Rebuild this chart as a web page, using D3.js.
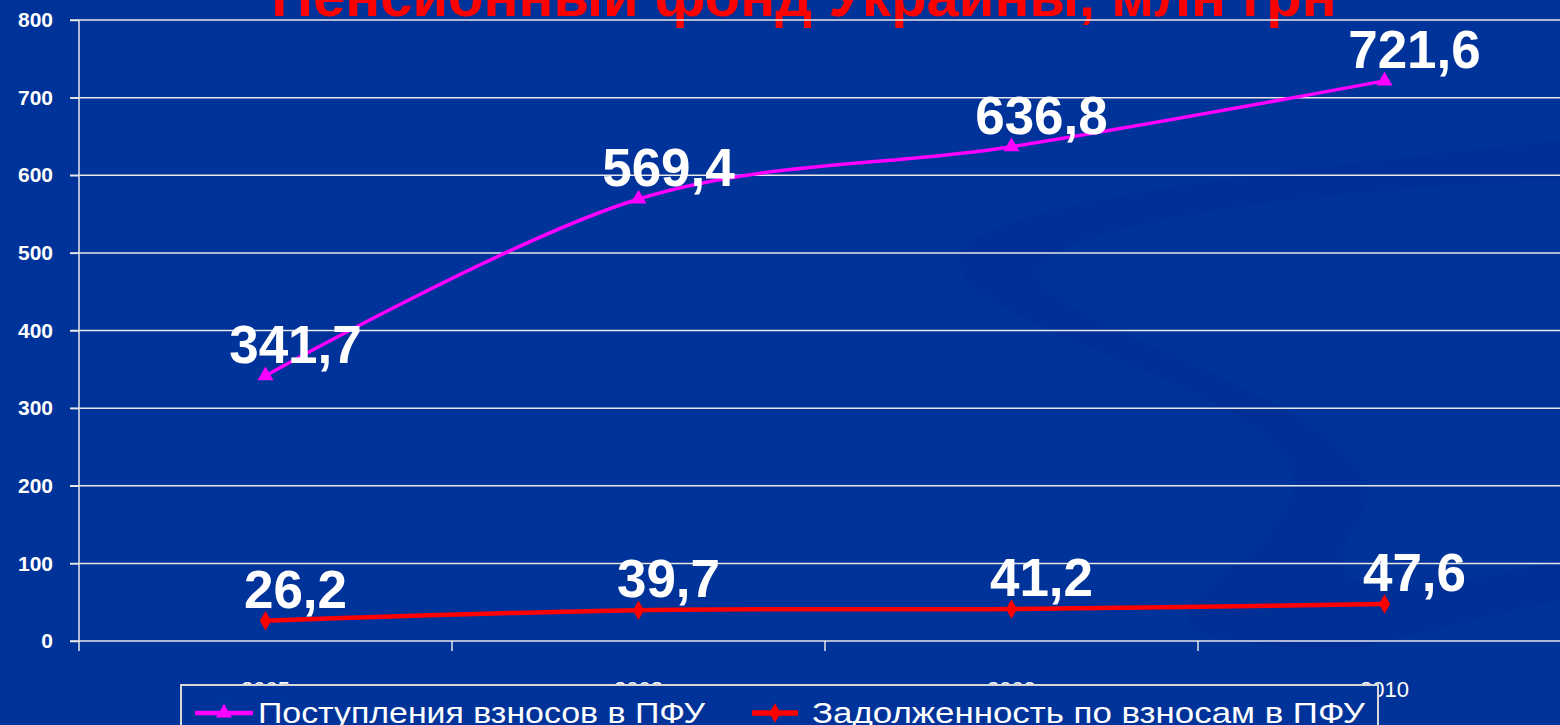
<!DOCTYPE html>
<html>
<head>
<meta charset="utf-8">
<script src="https://cdnjs.cloudflare.com/ajax/libs/d3/7.8.5/d3.min.js"></script>
<style>
  html, body { margin: 0; padding: 0; background: #003399; overflow: hidden; }
  #canvas { width: 1560px; height: 725px; }
</style>
</head>
<body>
<div id="canvas"></div>
<script>
// chart data
const years = ["2005", "2008", "2009", "2010"];
const contributions = [341.7, 569.4, 636.8, 721.6];
const arrears = [26.2, 39.7, 41.2, 47.6];
const yTicks = [0, 100, 200, 300, 400, 500, 600, 700, 800];
const seriesNames = ["Поступления взносов в ПФУ", "Задолженность по взносам в ПФУ"];
const title = "Пенсионный фонд Украины, млн грн";

const width = 1560;
const height = 725;
const margin = { top: 20, left: 79, bottom: 84, right: 68 };
const iwidth = width - margin.left - margin.right;
const iheight = height - margin.top - margin.bottom;

const fmt = (v) => d3.format(".1f")(v).replace(".", ",");

const svg = d3.select("#canvas").append("svg")
	.attr("width", width)
	.attr("height", height)
	.style("font-family", "Liberation Sans, Arial, sans-serif");

svg.append("rect").attr("width", width).attr("height", height).attr("fill", "#003399");

// faint decorative swoosh in the background
svg.append("path")
	.attr("d", "M1560,140 C1300,170 930,200 960,270 C990,340 1330,400 1290,500 C1250,590 1050,640 1350,650 L1560,600 L1560,560 C1400,600 1300,600 1360,520 C1420,420 1080,340 1040,280 C1010,230 1300,190 1560,180 Z")
	.attr("fill", "#002a8a")
	.attr("opacity", 0.22);

// title (cut off at the top like the source)
svg.append("text")
	.attr("x", 804)
	.attr("y", 16)
	.attr("text-anchor", "middle")
	.attr("fill", "#ff0000")
	.style("font-size", "58px")
	.style("font-weight", "bold")
	.text(title);

const g = svg.append("g").attr("transform", `translate(${margin.left},${margin.top})`);

const y = d3.scaleLinear().domain([0, 800]).range([iheight, 0]);
const x = d3.scaleBand().domain(years).range([0, 373 * 4]);
const cx = (d) => x(d) + x.bandwidth() / 2;

// grid lines
g.append("g")
	.selectAll("line")
	.data(yTicks)
	.join("line")
	.attr("x1", -9)
	.attr("x2", width - margin.left)
	.attr("y1", (d) => y(d))
	.attr("y2", (d) => y(d))
	.attr("stroke", "#e8e8e8")
	.attr("stroke-width", 1.5);

// y axis
const yAxis = g.append("g").call(d3.axisLeft(y).tickValues(yTicks).tickSize(9).tickPadding(17));
yAxis.select(".domain").remove();
yAxis.selectAll(".tick line").attr("stroke", "#e8e8e8").attr("stroke-width", 1.5);
yAxis.selectAll(".tick text")
	.attr("fill", "#ffffff")
	.style("font-size", "21px")
	.style("font-weight", "bold")
	.style("font-family", "Liberation Sans, Arial, sans-serif");
g.append("line")
	.attr("x1", 0).attr("x2", 0)
	.attr("y1", 0).attr("y2", iheight + 10)
	.attr("stroke", "#e8e8e8").attr("stroke-width", 1.5);

// x axis
const xAxis = g.append("g")
	.attr("transform", `translate(0,${iheight})`)
	.call(d3.axisBottom(x).tickSize(0).tickPadding(40));
xAxis.select(".domain").remove();
xAxis.selectAll(".tick text")
	.attr("fill", "#ffffff")
	.style("font-size", "22px")
	.style("font-family", "Liberation Sans, Arial, sans-serif");
g.append("g")
	.selectAll("line")
	.data(years)
	.join("line")
	.attr("x1", (d) => x(d) + x.bandwidth())
	.attr("x2", (d) => x(d) + x.bandwidth())
	.attr("y1", iheight)
	.attr("y2", iheight + 10)
	.attr("stroke", "#e8e8e8")
	.attr("stroke-width", 1.5);

// lines
const line = d3.line()
	.x((d) => cx(d.year))
	.y((d) => y(d.value))
	.curve(d3.curveCatmullRom.alpha(0));

const series = [
	{ name: seriesNames[0], values: contributions, color: "#ff00ff", width: 3.5, symbol: d3.symbolTriangle },
	{ name: seriesNames[1], values: arrears, color: "#ff0000", width: 4.5, symbol: d3.symbolDiamond }
];

series.forEach((s) => {
	const pts = years.map((yr, i) => ({ year: yr, value: s.values[i] }));
	g.append("path")
		.datum(pts)
		.attr("d", line)
		.attr("fill", "none")
		.attr("stroke", s.color)
		.attr("stroke-width", s.width);
	g.append("g")
		.selectAll("path")
		.data(pts)
		.join("path")
		.attr("d", d3.symbol().type(s.symbol).size(110))
		.attr("transform", (d) => `translate(${cx(d.year)},${y(d.value)})`)
		.attr("fill", s.color);
	g.append("g")
		.selectAll("text")
		.data(pts)
		.join("text")
		.attr("x", (d) => cx(d.year) + 30)
		.attr("y", (d) => y(d.value) - 13)
		.attr("text-anchor", "middle")
		.attr("fill", "#ffffff")
		.style("font-size", "53px")
		.style("font-weight", "bold")
		.text((d) => fmt(d.value));
});

// legend
const legend = svg.append("g").attr("transform", "translate(181,685)");
legend.append("rect")
	.attr("width", 1197)
	.attr("height", 70)
	.attr("fill", "#003399")
	.attr("stroke", "#d8d8d8")
	.attr("stroke-width", 2);

const legendItems = [
	{ x: 14, lineLen: 58, textX: 77, textLen: 447 },
	{ x: 571, lineLen: 46, textX: 631, textLen: 553 }
];
series.forEach((s, i) => {
	const li = legendItems[i];
	const item = legend.append("g").attr("transform", `translate(${li.x},28)`);
	item.append("line")
		.attr("x1", 0).attr("x2", li.lineLen)
		.attr("y1", 0).attr("y2", 0)
		.attr("stroke", s.color)
		.attr("stroke-width", s.width + 1);
	item.append("path")
		.attr("d", d3.symbol().type(s.symbol).size(110))
		.attr("transform", `translate(${li.lineLen / 2},0)`)
		.attr("fill", s.color);
	legend.append("text")
		.attr("x", li.textX)
		.attr("y", 38)
		.attr("fill", "#ffffff")
		.attr("textLength", li.textLen)
		.attr("lengthAdjust", "spacingAndGlyphs")
		.style("font-size", "30px")
		.text(s.name);
});
</script>
</body>
</html>
